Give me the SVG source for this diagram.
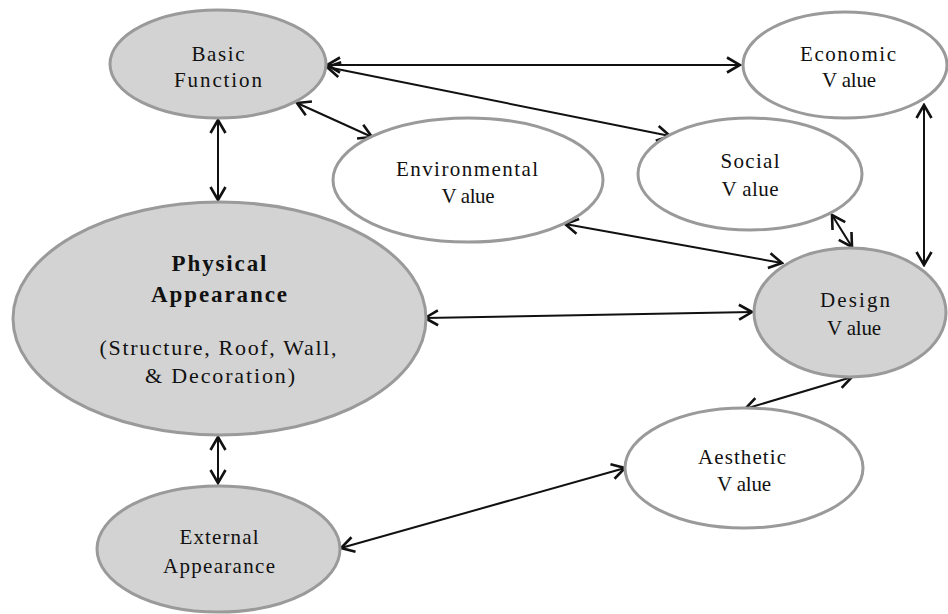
<svg xmlns="http://www.w3.org/2000/svg" width="948" height="614" viewBox="0 0 948 614">
<style>
.g{fill:#d3d3d3;stroke:#9a9a9a;stroke-width:3}
.w{fill:#ffffff;stroke:#9a9a9a;stroke-width:3}
.t text{font-size:21px;fill:#111;text-anchor:middle}
.t .b{font-weight:bold;font-size:23px}
.c line{stroke:#111;stroke-width:2;marker-start:url(#a);marker-end:url(#a)}
</style>
<defs>
<marker id="a" markerUnits="userSpaceOnUse" viewBox="-15 -10 17 20" refX="0" refY="0" markerWidth="17" markerHeight="20" orient="auto-start-reverse">
<path d="M-13,-7.5 L0,0 L-13,7.5" fill="none" stroke="#111" stroke-width="2.6"/>
</marker>
</defs>
<rect width="948" height="614" fill="#fff"/>
<g class="c" id="connectors">
<line x1="327" y1="65" x2="740" y2="65"/>
<line x1="327" y1="67" x2="670" y2="136"/>
<line x1="297" y1="103" x2="372" y2="137"/>
<line x1="218" y1="120" x2="218" y2="200"/>
<line x1="565" y1="224" x2="782" y2="263"/>
<line x1="832" y1="215" x2="852" y2="247"/>
<line x1="924" y1="105" x2="924" y2="265"/>
<line x1="425" y1="318" x2="752" y2="312"/>
<line x1="852" y1="377" x2="745" y2="409"/>
<line x1="341" y1="548" x2="625" y2="468"/>
<line x1="218" y1="437" x2="218" y2="483"/>
</g>
<g class="t" font-family="'Liberation Serif', 'Times New Roman', 'DejaVu Serif', serif">
<g id="basic">
<ellipse class="g" cx="218" cy="64" rx="108" ry="54"/>
<text x="218" y="61" textLength="53" lengthAdjust="spacing">Basic</text>
<text x="218" y="87" textLength="88" lengthAdjust="spacing">Function</text>
</g>
<g id="economic">
<ellipse class="w" cx="845" cy="65" rx="102" ry="53"/>
<text x="848" y="61" textLength="96" lengthAdjust="spacing">Economic</text>
<text x="849" y="87" textLength="54" lengthAdjust="spacing">V alue</text>
</g>
<g id="environmental">
<ellipse class="w" cx="468" cy="180" rx="135" ry="62"/>
<text x="467" y="176" textLength="142" lengthAdjust="spacing">Environmental</text>
<text x="468" y="203" textLength="53" lengthAdjust="spacing">V alue</text>
</g>
<g id="social">
<ellipse class="w" cx="750" cy="174" rx="112" ry="56"/>
<text x="750" y="168" textLength="59" lengthAdjust="spacing">Social</text>
<text x="750" y="196" textLength="57" lengthAdjust="spacing">V alue</text>
</g>
<g id="physical">
<ellipse class="g" cx="219.5" cy="318.5" rx="206.5" ry="116.5"/>
<text class="b" x="219" y="271" textLength="95" lengthAdjust="spacing">Physical</text>
<text class="b" x="219" y="302" textLength="136" lengthAdjust="spacing">Appearance</text>
<text x="218" y="355" textLength="237" lengthAdjust="spacing" style="font-size:22px">(Structure, Roof, Wall,</text>
<text x="220" y="383" textLength="150" lengthAdjust="spacing" style="font-size:22px">&amp; Decoration)</text>
</g>
<g id="design">
<ellipse class="g" cx="850" cy="312.5" rx="96" ry="64.5"/>
<text x="855" y="307" textLength="70" lengthAdjust="spacing">Design</text>
<text x="854" y="335" textLength="54" lengthAdjust="spacing">V alue</text>
</g>
<g id="aesthetic">
<ellipse class="w" cx="744" cy="468" rx="119" ry="60"/>
<text x="742" y="464" textLength="88" lengthAdjust="spacing">Aesthetic</text>
<text x="744" y="491" textLength="54" lengthAdjust="spacing">V alue</text>
</g>
<g id="external">
<ellipse class="g" cx="218.5" cy="549" rx="121.5" ry="63"/>
<text x="219" y="544" textLength="79" lengthAdjust="spacing">External</text>
<text x="219" y="573" textLength="112" lengthAdjust="spacing">Appearance</text>
</g>
</g>
</svg>
